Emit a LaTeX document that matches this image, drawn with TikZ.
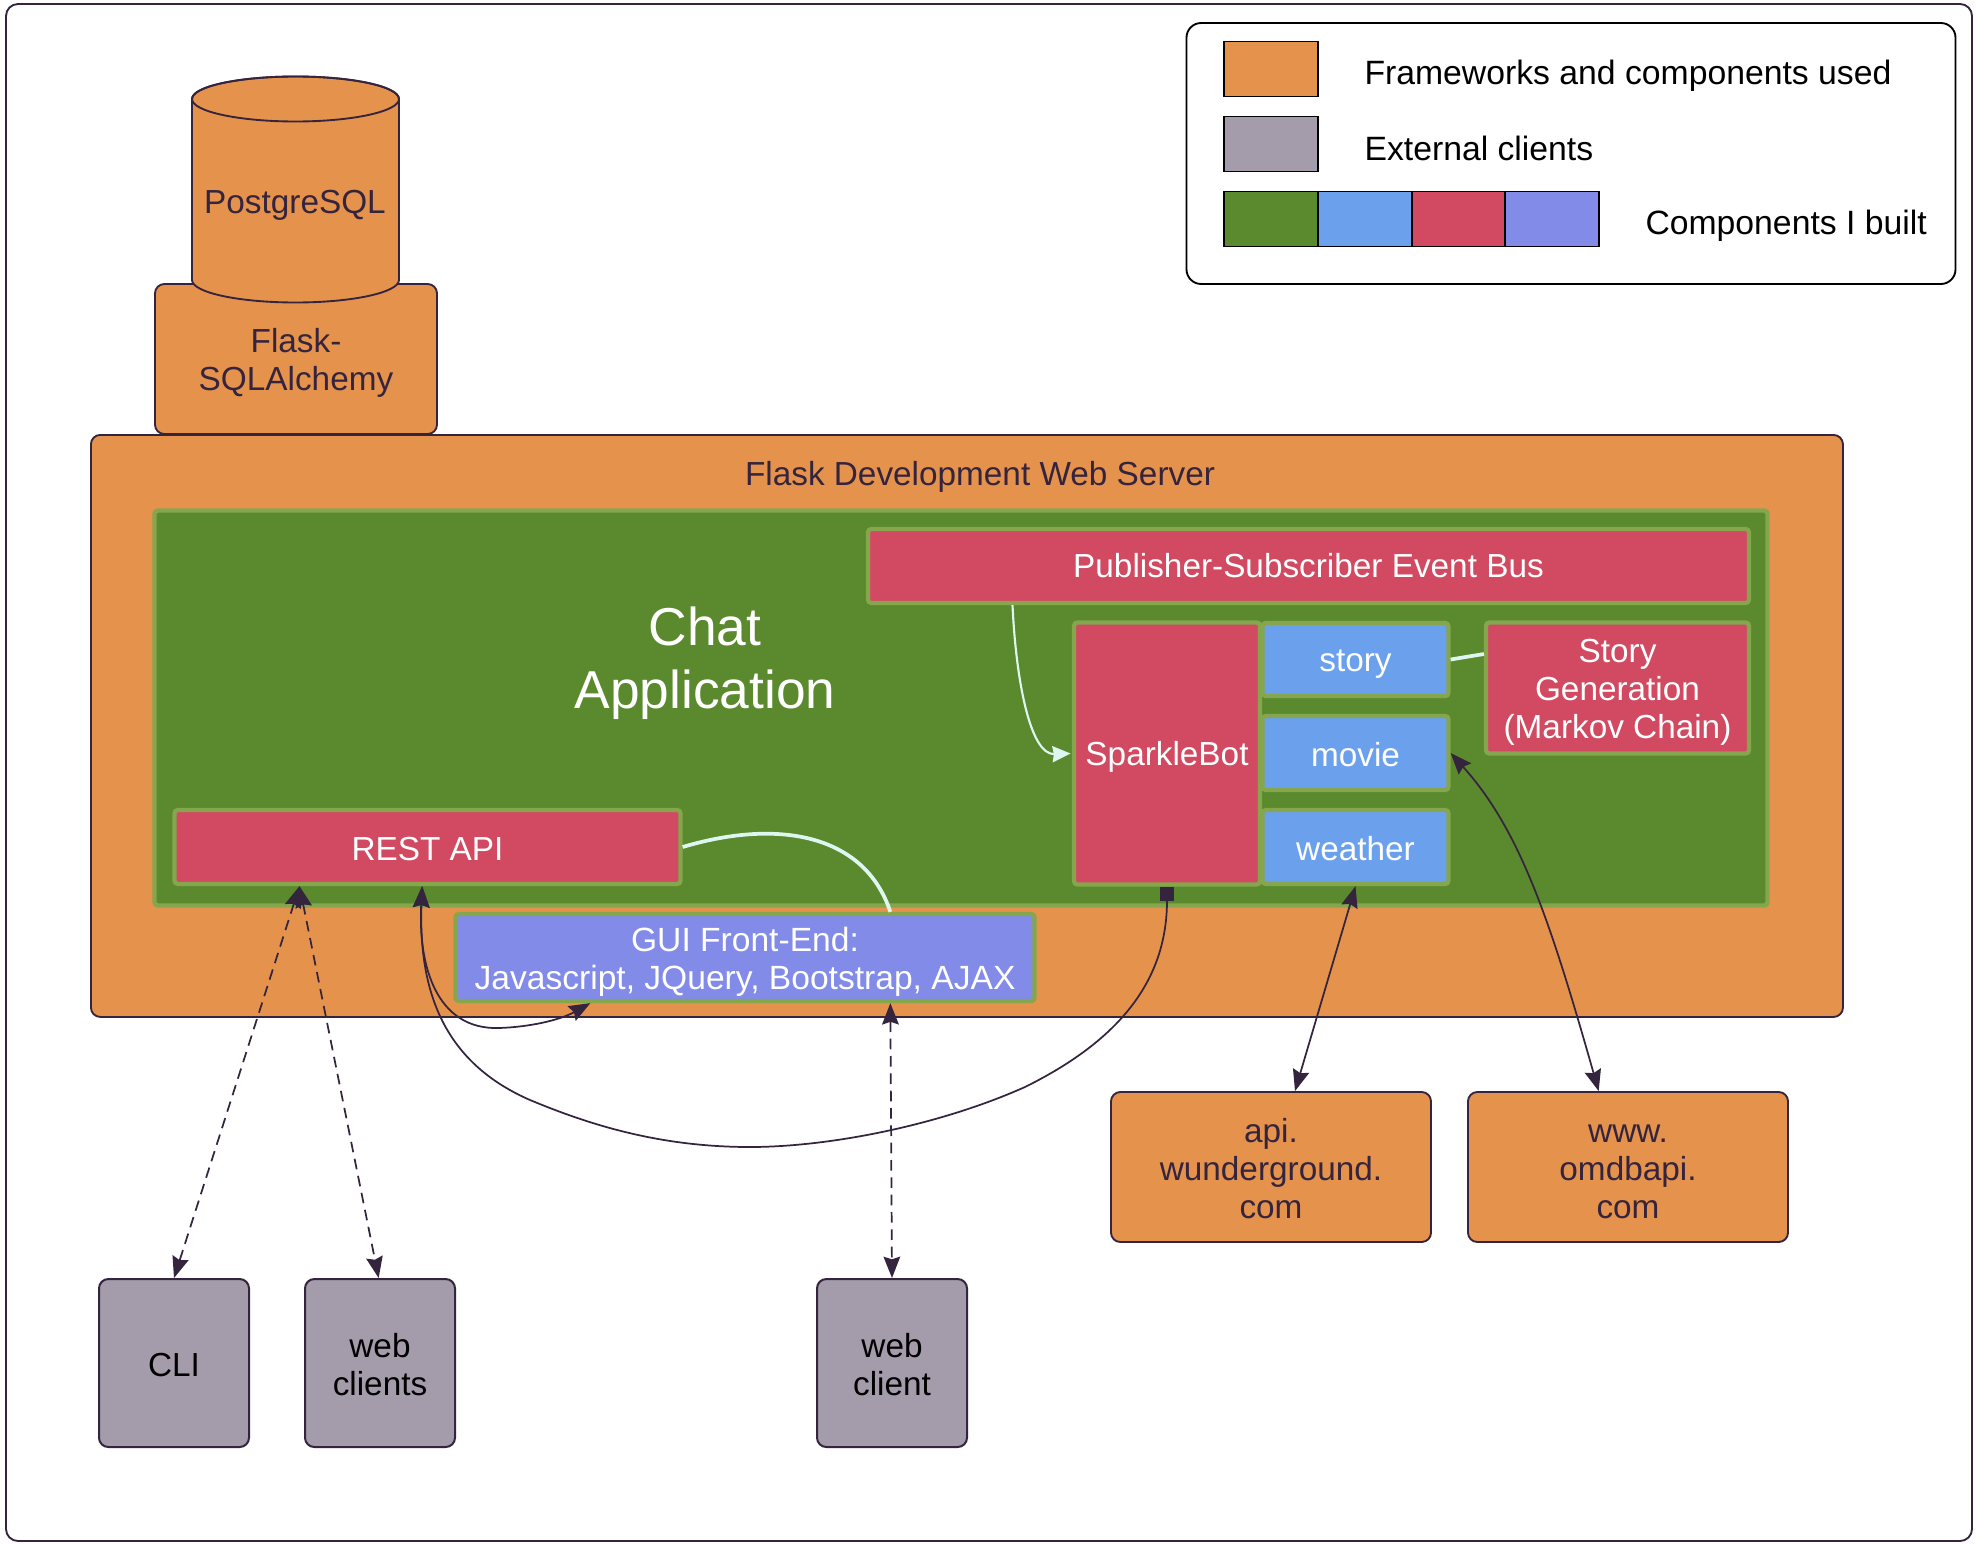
\documentclass[tikz,border=0pt]{standalone}
\usepackage{fontspec}
\setmainfont{Liberation Sans}
\usetikzlibrary{arrows.meta}

\definecolor{ink}{RGB}{52,36,62}
\definecolor{orangebox}{RGB}{229,146,76}
\definecolor{clientbox}{RGB}{164,155,171}
\definecolor{greenbox}{RGB}{90,138,45}
\definecolor{bluebox}{RGB}{107,160,237}
\definecolor{redbox}{RGB}{210,74,98}
\definecolor{violetbox}{RGB}{130,139,232}
\definecolor{edgeglow}{RGB}{134,166,78}
\definecolor{paleline}{RGB}{222,245,240}

\newcommand{\firstline}{\rule{0pt}{.96em}}

\tikzset{
  every picture/.style={line width=0.75pt},
  wh/.style n args={2}{minimum width=#1*0.75pt,minimum height=#2*0.75pt},
  base/.style={inner sep=0pt,align=center,font=\fontsize{25}{28.5}\selectfont,
    execute at begin node=\rule{0pt}{.94em},execute at end node=\rule[-.16em]{0pt}{.16em}},
  used/.style={base,draw=ink,fill=orangebox,text=ink,line width=1.4pt,rounded corners=7pt},
  client/.style={base,draw=ink,fill=clientbox,text=black,line width=1.5pt,rounded corners=7pt},
  built/.style={base,draw=edgeglow,text=white,line width=3.2pt,rounded corners=2.5pt},
  swatch/.style={inner sep=0pt,draw=black,line width=1.4pt,wh={93.7}{55}},
  caption/.style={base,text=black,anchor=west,font=\fontsize{25.3}{28.5}\selectfont},
  link/.style={draw=ink,line width=1.3pt,>={Stealth[length=16pt,width=12.5pt,inset=2pt]}},
  pale/.style={draw=paleline},
}

\begin{document}
\begin{tikzpicture}[x=0.75pt,y=0.75pt,yscale=-1,xscale=1]
\useasboundingbox (0,0) rectangle (1977,1545);

%Outer frame
\node [draw=ink,line width=1.4pt,rounded corners=9pt,wh={1966}{1537},inner sep=0pt] (frame) at (989,772.5) {};

%Legend
\node [draw=black,line width=1.4pt,rounded corners=11pt,fill=white,wh={769}{261},inner sep=0pt] (legend) at (1571,153.5) {};
\node [swatch,fill=orangebox] (usedkey) at (1271,69) {};
\node [swatch,fill=clientbox] (clientkey) at (1271,144) {};
\node [swatch,fill=greenbox] (greenkey) at (1271,219) {};
\node [swatch,fill=bluebox] (bluekey) at (1364.7,219) {};
\node [swatch,fill=redbox] (redkey) at (1458.4,219) {};
\node [swatch,fill=violetbox] (violetkey) at (1552.1,219) {};
\node [caption] (usedtext) at (1364,72) {Frameworks and components used};
\node [caption] (clienttext) at (1364,147) {External clients};
\node [caption] (builttext) at (1645,222) {Components I built};

%Database stack
\node [used,wh={282}{150}] (alchemy) at (296,359) {\firstline Flask-\\SQLAlchemy};
\draw [draw=ink,fill=orangebox,line width=1.4pt] (192,99) -- (192,280) arc [start angle=180,end angle=0,x radius=103.5,y radius=22.5] -- (399,99) arc [start angle=0,end angle=-180,x radius=103.5,y radius=22.5] -- cycle;
\draw [draw=ink,line width=1.4pt] (295.5,99) ellipse [x radius=103.5,y radius=22.5];
\node [base,text=ink] (postgres) at (295,201) {PostgreSQL};

%Web server
\node [used,wh={1752}{582},anchor=north west] (server) at (90,434) {};
\node [base,text=ink] (servertext) at (980,473) {Flask Development Web Server};

%Chat application
\node [built,fill=greenbox,wh={1613}{395}] (chat) at (961,708) {};
\node [base,text=white,font=\fontsize{40}{47}\selectfont] (chattext) at (705,657) {\firstline Chat\\Application};
\node [built,fill=redbox,wh={881}{74}] (bus) at (1308.5,566) {\raisebox{1pt}{Publisher-Subscriber Event Bus}};
\node [built,fill=redbox,wh={186}{262}] (sparkle) at (1167,753.5) {SparkleBot};
\node [built,fill=bluebox,wh={186}{73}] (story) at (1355.5,659.5) {story};
\node [built,fill=bluebox,wh={186}{74}] (movie) at (1355.5,753) {movie};
\node [built,fill=bluebox,wh={186}{74}] (weather) at (1355.5,847) {weather};
\node [built,fill=redbox,wh={263}{131}] (markov) at (1617.5,688) {\firstline Story\\Generation\\(Markov Chain)};
\node [built,fill=redbox,wh={506}{74}] (rest) at (427.5,847) {REST API};
\node [built,fill=violetbox,wh={579}{87},font=\fontsize{25.2}{28.5}\selectfont] (gui) at (745,957.5) {\firstline GUI Front-End:\\Javascript, JQuery, Bootstrap, AJAX};

%External services and clients
\node [used,wh={320}{150}] (wunder) at (1271,1167) {\firstline api.\\wunderground.\\com};
\node [used,wh={320}{150}] (omdb) at (1628,1167) {\firstline www.\\omdbapi.\\com};
\node [client,wh={150}{168}] (cli) at (174,1363) {CLI};
\node [client,wh={150}{168}] (webclients) at (380,1363) {\firstline web\\clients};
\node [client,wh={150}{168}] (webclient) at (892,1363) {\firstline web\\client};

%Pale links inside the application
\draw [pale,line width=1.6pt,-{Stealth[length=13.5pt,width=12pt,inset=1pt]}] ([xshift=-222pt]bus.south) .. controls (1016,680) and (1030,755) .. ([xshift=-1pt]sparkle.west);
\draw [pale,line width=2.8pt] (rest.east) .. controls (780,818) and (865,835) .. ([xshift=109pt]gui.north);
\draw [pale,line width=2.8pt] (story.east) -- ([yshift=-25.5pt]markov.west);

%Dark links
\draw [link,dashed,dash pattern=on 8pt off 5pt,<->] ([xshift=-96pt]rest.south) -- (cli.north);
\draw [link,dashed,dash pattern=on 8pt off 5pt,<->] ([xshift=-96pt]rest.south) -- ([xshift=-1pt]webclients.north);
\draw [link,dashed,dash pattern=on 8pt off 5pt,<->] ([xshift=109pt]gui.south) -- (webclient.north);
\draw [link,<->] ([xshift=-4pt]rest.south) .. controls (418,965) and (436,1030) .. (499,1028) .. controls (530,1027) and (560,1020) .. ([xshift=-116pt]gui.south);
\draw [link,{Square[length=11pt,width=10.5pt]}->] (sparkle.south) .. controls (1167,980) and (1120,1040) .. (1025,1087) .. controls (940,1125) and (830,1147) .. (750,1147) .. controls (660,1147) and (590,1125) .. (530,1100) .. controls (450,1065) and (418,1000) .. ([xshift=-4pt]rest.south);
\draw [link,<->] (weather.south) -- ([xshift=18pt]wunder.north);
\draw [link,<->] (movie.east) .. controls (1520,830) and (1550,920) .. ([xshift=-22pt]omdb.north);

\end{tikzpicture}
\end{document}
